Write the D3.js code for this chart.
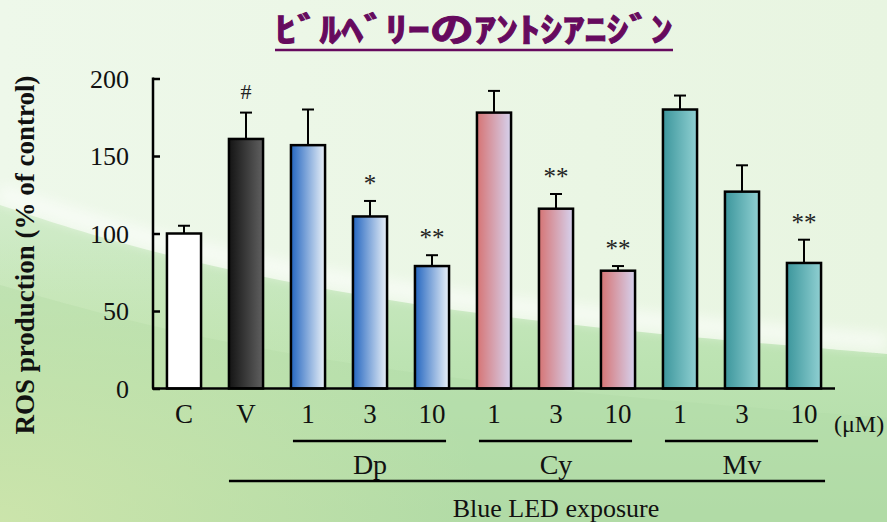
<!DOCTYPE html>
<html>
<head>
<meta charset="utf-8">
<script src="https://cdn.jsdelivr.net/npm/d3@7"></script>
<style>
  html, body { margin: 0; padding: 0; background: #eef8ea; }
  svg { display: block; }
  .serif { font-family: "Liberation Serif", "DejaVu Serif", serif; }
</style>
</head>
<body>
<svg id="chart" width="887" height="522"></svg>
<script>
// ROS production after blue LED exposure, by anthocyanidin and dose
const categories = ["C", "V", "Dp1", "Dp3", "Dp10", "Cy1", "Cy3", "Cy10", "Mv1", "Mv3", "Mv10"];
const tickLabels = ["C", "V", "1", "3", "10", "1", "3", "10", "1", "3", "10"];
const means      = [100, 161, 157, 111, 79, 178, 116, 76, 180, 127, 81];
const errors     = [5, 17, 23, 10, 7, 14, 9.5, 3, 9, 17, 15];
const marks      = ["", "#", "", "*", "**", "", "**", "**", "", "", "**"];
const fillKeys   = ["C", "V", "Dp", "Dp", "Dp", "Cy", "Cy", "Cy", "Mv", "Mv", "Mv"];
const yTicks     = [0, 50, 100, 150, 200];
const groupNames = ["Dp", "Cy", "Mv"];
const groupFirst = ["Dp1", "Cy1", "Mv1"];
const groupLast  = ["Dp10", "Cy10", "Mv10"];

const fills = {
  C:  ["#ffffff", "#ffffff"],
  V:  ["#141414", "#606060"],
  Dp: ["#2466c0", "#eaf1f8"],
  Cy: ["#d67474", "#d6d2ee"],
  Mv: ["#3c969c", "#90d0d2"]
};

const svg = d3.select("#chart");
const W = 887, H = 522;
const defs = svg.append("defs");

// ---- background ----
const bgTop = defs.append("linearGradient").attr("id", "bgTop")
  .attr("x1", 0).attr("y1", 0).attr("x2", 1).attr("y2", 0);
bgTop.append("stop").attr("offset", "0%").attr("stop-color", "#eef8ea");
bgTop.append("stop").attr("offset", "100%").attr("stop-color", "#e8f5e1");

const bgLow = defs.append("linearGradient").attr("id", "bgLow")
  .attr("x1", 0).attr("y1", 0).attr("x2", 0).attr("y2", 1);
bgLow.append("stop").attr("offset", "0%").attr("stop-color", "#d2ecca");
bgLow.append("stop").attr("offset", "50%").attr("stop-color", "#bce3b2");
bgLow.append("stop").attr("offset", "100%").attr("stop-color", "#b0daa4");

const bgCorner = defs.append("radialGradient").attr("id", "bgCorner")
  .attr("cx", 0).attr("cy", 1).attr("r", 0.55);
bgCorner.append("stop").attr("offset", "0%").attr("stop-color", "#d0e6ac").attr("stop-opacity", 0.85);
bgCorner.append("stop").attr("offset", "100%").attr("stop-color", "#d0e6ac").attr("stop-opacity", 0);

defs.append("filter").attr("id", "soft")
  .append("feGaussianBlur").attr("stdDeviation", 6);

svg.append("rect").attr("width", W).attr("height", H).attr("fill", "url(#bgTop)");

const waveLine = d3.line().curve(d3.curveBasis);
const wave1 = [[0, 205], [160, 258], [470, 318], [840, 350], [887, 354]];
svg.append("path")
  .attr("d", waveLine(wave1) + `L${W},${H}L0,${H}Z`)
  .attr("fill", "url(#bgLow)");
const wave2 = [[0, 285], [200, 342], [520, 390], [887, 418]];
svg.append("path")
  .attr("d", waveLine(wave2) + `L${W},${H}L0,${H}Z`)
  .attr("fill", "#b2dca8").attr("opacity", 0.5);
svg.append("path")
  .attr("d", waveLine(wave1.map(d => [d[0], d[1] - 12])))
  .attr("fill", "none").attr("stroke", "#ffffff").attr("stroke-width", 18)
  .attr("opacity", 0.5).attr("filter", "url(#soft)");
svg.append("rect").attr("width", W).attr("height", H).attr("fill", "url(#bgCorner)");

// ---- bar gradients ----
Object.entries(fills).forEach(([k, c]) => {
  const g = defs.append("linearGradient").attr("id", "fill" + k)
    .attr("x1", 0).attr("y1", 0).attr("x2", 1).attr("y2", 0);
  g.append("stop").attr("offset", "0%").attr("stop-color", c[0]);
  g.append("stop").attr("offset", "100%").attr("stop-color", c[1]);
});

// ---- scales ----
const x = d3.scaleBand().domain(categories).range([153, 835])
  .paddingInner(0.45).paddingOuter(0.225);
const y = d3.scaleLinear().domain([0, 200]).range([388.5, 78.5]);

// ---- title (half-width kana, widened to span 275..673) ----
const titleLeft = 275, titleWidth = 398;
const title = svg.append("text")
  .attr("font-family", "Noto Sans CJK JP, sans-serif")
  .attr("font-weight", "bold").attr("font-size", 34)
  .attr("fill", "#660a5e")
  .attr("stroke", "#660a5e").attr("stroke-width", 0.9)
  .text("ﾋﾞﾙﾍﾞﾘｰのｱﾝﾄｼｱﾆｼﾞﾝ");
const natural = title.node().getComputedTextLength() || 289;
title.attr("transform", `translate(${titleLeft},42) scale(${titleWidth / natural},1)`);
svg.append("line").attr("x1", titleLeft).attr("x2", titleLeft + titleWidth).attr("y1", 50).attr("y2", 50)
  .attr("stroke", "#660a5e").attr("stroke-width", 2.5);

// ---- bars ----
const rows = categories.map((c, i) => ({
  c, label: tickLabels[i], v: means[i], e: errors[i], m: marks[i], f: fillKeys[i]
}));

svg.append("g").selectAll("rect").data(rows).join("rect")
  .attr("x", d => x(d.c))
  .attr("y", d => y(d.v))
  .attr("width", x.bandwidth())
  .attr("height", d => y(0) - y(d.v))
  .attr("fill", d => `url(#fill${d.f})`)
  .attr("stroke", "#000").attr("stroke-width", 2.5);

// error bars (upper only)
const eb = svg.append("g").attr("stroke", "#000").attr("stroke-width", 2);
eb.selectAll("line.v").data(rows).join("line").attr("class", "v")
  .attr("x1", d => x(d.c) + x.bandwidth() / 2).attr("x2", d => x(d.c) + x.bandwidth() / 2)
  .attr("y1", d => y(d.v)).attr("y2", d => y(d.v + d.e));
eb.selectAll("line.cap").data(rows).join("line").attr("class", "cap")
  .attr("x1", d => x(d.c) + x.bandwidth() / 2 - 6).attr("x2", d => x(d.c) + x.bandwidth() / 2 + 6)
  .attr("y1", d => y(d.v + d.e)).attr("y2", d => y(d.v + d.e));

// significance marks
svg.append("g").selectAll("text").data(rows.filter(d => d.m)).join("text")
  .attr("class", "serif")
  .attr("x", d => x(d.c) + x.bandwidth() / 2)
  .attr("y", d => y(d.v + d.e) - (d.m === "#" ? 14 : 9))
  .attr("text-anchor", "middle")
  .attr("font-size", d => d.m === "#" ? 22 : 25)
  .attr("fill", "#222")
  .text(d => d.m);

// ---- axes ----
const yAxis = svg.append("g").attr("transform", "translate(153,0)")
  .call(d3.axisRight(y).tickValues(yTicks).tickSize(7).tickFormat(() => ""));
yAxis.select(".domain").remove();
yAxis.selectAll(".tick line").attr("stroke", "#000").attr("stroke-width", 2.5);
svg.append("line").attr("x1", 153).attr("x2", 153).attr("y1", y(200) - 1).attr("y2", y(0))
  .attr("stroke", "#000").attr("stroke-width", 2.5);
svg.append("line").attr("x1", 152).attr("x2", 835).attr("y1", y(0)).attr("y2", y(0))
  .attr("stroke", "#000").attr("stroke-width", 2.5);

svg.append("g").selectAll("text").data(yTicks).join("text")
  .attr("class", "serif")
  .attr("x", 129).attr("y", d => y(d) + 9)
  .attr("text-anchor", "end")
  .attr("font-size", 26).attr("fill", "#111")
  .text(d => d);

svg.append("text")
  .attr("class", "serif")
  .attr("transform", "translate(34,255) rotate(-90)")
  .attr("text-anchor", "middle")
  .attr("font-weight", "bold").attr("font-size", 27)
  .attr("fill", "#111")
  .text("ROS production (% of control)");

// category labels
svg.append("g").selectAll("text").data(rows).join("text")
  .attr("class", "serif")
  .attr("x", d => x(d.c) + x.bandwidth() / 2).attr("y", 423)
  .attr("text-anchor", "middle")
  .attr("font-size", 27).attr("fill", "#111")
  .text(d => d.label);
svg.append("text").attr("class", "serif").attr("x", 834).attr("y", 432)
  .attr("font-size", 24).attr("fill", "#111")
  .text("(μM)");

// group brackets
groupNames.forEach((g, i) => {
  const x0 = x(groupFirst[i]), x1 = x(groupLast[i]) + x.bandwidth();
  svg.append("line").attr("x1", x0 + 2).attr("x2", x1 - 3).attr("y1", 441).attr("y2", 441)
    .attr("stroke", "#000").attr("stroke-width", 2.5);
  svg.append("text").attr("class", "serif").attr("x", (x0 + x1) / 2).attr("y", 474)
    .attr("text-anchor", "middle")
    .attr("font-size", 28).attr("fill", "#111")
    .text(g);
});
svg.append("line").attr("x1", x("V")).attr("x2", x("Mv10") + x.bandwidth() + 4)
  .attr("y1", 481).attr("y2", 481)
  .attr("stroke", "#000").attr("stroke-width", 2.5);
svg.append("text").attr("class", "serif")
  .attr("x", (x("V") + x("Mv10") + x.bandwidth()) / 2 + 31).attr("y", 517)
  .attr("text-anchor", "middle")
  .attr("font-size", 26).attr("fill", "#111")
  .text("Blue LED exposure");
</script>
</body>
</html>
